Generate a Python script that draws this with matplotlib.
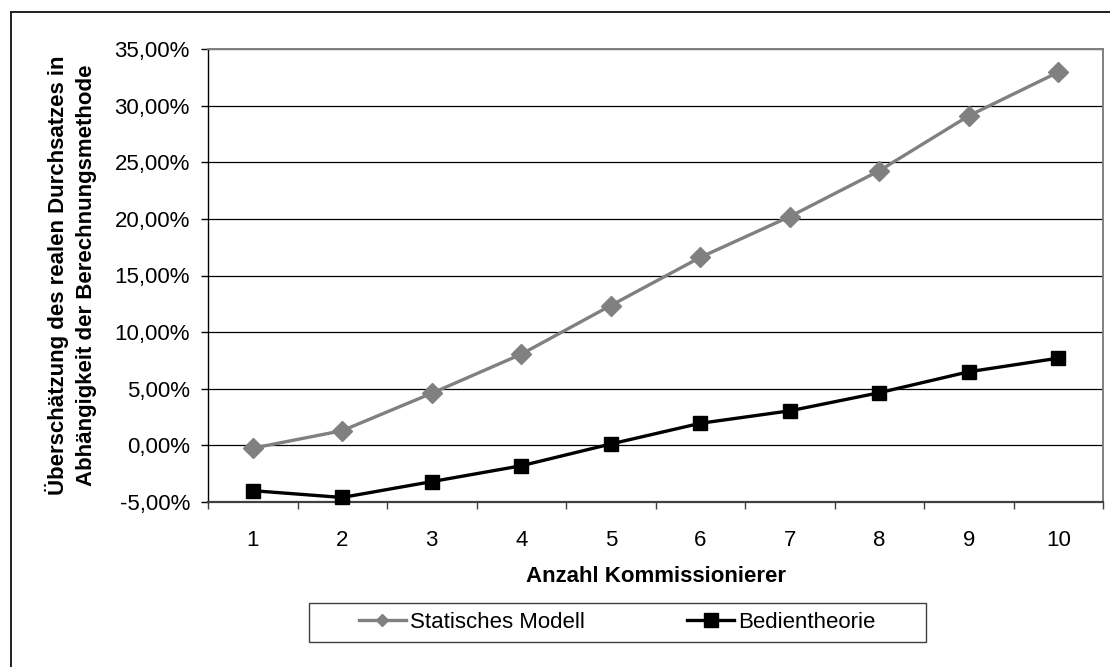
import matplotlib
matplotlib.use("Agg")
import matplotlib.pyplot as plt
from matplotlib.lines import Line2D
from matplotlib.patches import Rectangle
from matplotlib.ticker import FixedLocator, FuncFormatter

plt.rcParams['font.family'] = ['Liberation Sans', 'DejaVu Sans']

# Anzahl Kommissionierer und Überschätzung in Prozent
kommissionierer = [1, 2, 3, 4, 5, 6, 7, 8, 9, 10]
statisches_modell = [-0.25, 1.3, 4.6, 8.05, 12.35, 16.6, 20.2, 24.25, 29.1, 32.95]
bedientheorie = [-4.0, -4.6, -3.2, -1.8, 0.12, 1.95, 3.05, 4.65, 6.5, 7.7]
y_ticks = [-5, 0, 5, 10, 15, 20, 25, 30, 35]

W, H = 1110, 667
fs = 16
fig = plt.figure(figsize=(W / 100, H / 100), dpi=100)
fig.patch.set_facecolor('white')

# Diagrammbereich in Pixeln
left, right, top, bottom = 208, 1103, 49, 502
ax = fig.add_axes([left / W, 1 - bottom / H, (right - left) / W, (bottom - top) / H])

grey = '#808080'
ax.plot(kommissionierer, statisches_modell, color=grey, lw=2.4, marker='D', ms=10,
        markeredgecolor=grey, markerfacecolor=grey, label='Statisches Modell',
        clip_on=False, zorder=3)
ax.plot(kommissionierer, bedientheorie, color='black', lw=2.4, marker='s', ms=10.5,
        markeredgecolor='black', markerfacecolor='black', label='Bedientheorie',
        clip_on=False, zorder=4)

ax.set_xlim(0.5, 10.5)
ax.set_ylim(-5, 35)

ax.xaxis.set_major_locator(FixedLocator(kommissionierer))
ax.xaxis.set_minor_locator(FixedLocator([k + 0.5 for k in range(0, 11)]))
ax.xaxis.set_major_formatter(FuncFormatter(lambda v, p: f"{int(v)}"))
ax.tick_params(axis='x', which='major', length=0, pad=20, labelsize=fs)
ax.tick_params(axis='x', which='minor', length=5, width=1, color='#404040', direction='out')

ax.yaxis.set_major_locator(FixedLocator(y_ticks))
ax.yaxis.set_major_formatter(FuncFormatter(lambda v, p: f"{v:.2f}%".replace('.', ',')))
ax.tick_params(axis='y', length=5, width=1, color='black', pad=8, labelsize=fs)

ax.yaxis.grid(True, color='black', lw=0.9)
ax.set_axisbelow(True)

ax.spines['left'].set_color('black')
ax.spines['left'].set_linewidth(1)
ax.spines['bottom'].set_color('#404040')
ax.spines['bottom'].set_linewidth(1.6)
for side in ('top', 'right'):
    ax.spines[side].set_color(grey)
    ax.spines[side].set_linewidth(1.4)

# Achsentitel
fig.text(71 / W, 1 - (top + bottom) / 2 / H,
         'Überschätzung des realen Durchsatzes in\nAbhängigkeit der Berechnungsmethode',
         rotation=90, ha='center', va='center', fontsize=fs, fontweight='bold',
         linespacing=1.45)
fig.text((left + right) / 2 / W, 1 - 576 / H, 'Anzahl Kommissionierer',
         ha='center', va='center', fontsize=fs, fontweight='bold')

# Legende unter dem Diagramm, Rahmen separat
leg_l, leg_r, leg_t, leg_b = 309, 926, 603, 642
fig.add_artist(Rectangle((leg_l / W, 1 - leg_b / H), (leg_r - leg_l) / W,
                         (leg_b - leg_t) / H, transform=fig.transFigure,
                         facecolor='white', edgecolor='#404040', lw=1))
leg = fig.legend(loc='center', ncol=2, fontsize=fs, frameon=False,
                 bbox_to_anchor=((leg_l + leg_r) / 2 / W, 1 - (leg_t + leg_b) / 2 / H),
                 bbox_transform=fig.transFigure, handlelength=2.1,
                 handletextpad=0.2, columnspacing=4.6, borderpad=0, borderaxespad=0)
handles = leg.legend_handles
handles[0].set_markersize(6.5)
handles[1].set_markersize(9.5)

# Rahmen um die ganze Grafik
frame_kw = dict(transform=fig.transFigure, color='#202020', lw=1.4)
fig.add_artist(Line2D([11 / W, 11 / W], [0, 1 - 12 / H], **frame_kw))
fig.add_artist(Line2D([11 / W, 1], [1 - 12 / H, 1 - 12 / H], **frame_kw))

fig.savefig('out.png', dpi=100)
